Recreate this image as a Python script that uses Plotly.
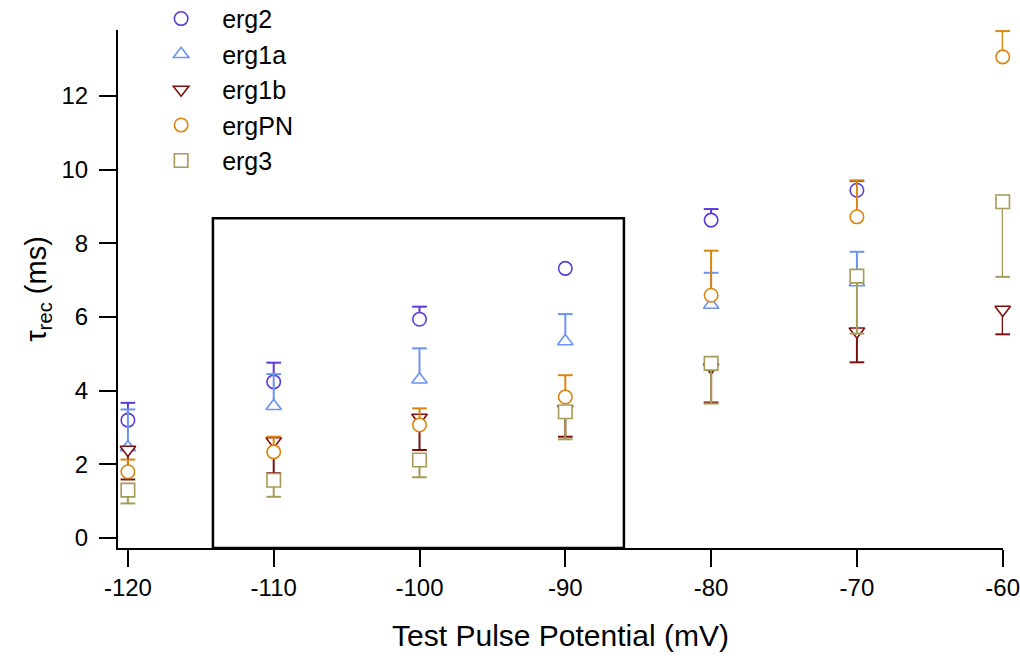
import plotly.graph_objects as go

# ---------------- data ----------------
test_potential_mv = [-120, -110, -100, -90, -80, -70, -60]

erg2 = [3.20, 4.24, 5.94, 7.32, 8.63, 9.44, None]
erg2_err_up = [0.47, 0.52, 0.34, 0.0, 0.30, 0.25, None]

erg1a = [2.46, 3.58, 4.30, 5.34, 6.33, 6.94, None]
erg1a_err_up = [1.03, 0.87, 0.85, 0.74, 0.87, 0.83, None]

erg1b = [2.40, 2.63, 3.27, 3.50, 4.63, 5.61, 6.20]
erg1b_err_down = [0.81, 0.87, 0.88, 0.75, 0.95, 0.84, 0.67]

ergPN = [1.80, 2.34, 3.07, 3.83, 6.59, 8.72, 13.06]
ergPN_err_up = [0.33, 0.41, 0.45, 0.59, 1.21, 0.99, 0.70]

erg3 = [1.30, 1.57, 2.12, 3.43, 4.74, 7.11, 9.13]
erg3_err_down = [0.36, 0.45, 0.47, 0.75, 1.09, 1.56, 2.04]

x_ticks = [-120, -110, -100, -90, -80, -70, -60]
x_tick_labels = ["-120", "-110", "-100", "-90", "-80", "-70", "-60"]
y_ticks = [0, 2, 4, 6, 8, 10, 12]
y_tick_labels = ["0", "2", "4", "6", "8", "10", "12"]

# highlighted region (data coords)
box_x = [-114.17, -85.98]
box_y_top = 8.68

X_RANGE = [-120.68, -59.98]
Y_RANGE = [-0.27, 13.79]

series = [
    ("erg2", erg2, erg2_err_up, "up", "circle", "#5B3CD8"),
    ("erg1a", erg1a, erg1a_err_up, "up", "triangle-up", "#6B93F2"),
    ("erg1b", erg1b, erg1b_err_down, "down", "triangle-down", "#7F0F0F"),
    ("ergPN", ergPN, ergPN_err_up, "up", "circle", "#DA850F"),
    ("erg3", erg3, erg3_err_down, "down", "square", "#A59B58"),
]

fig = go.Figure()

for name, vals, errs, direction, symbol, color in series:
    zeros = [0 if v is not None else None for v in vals]
    if direction == "up":
        plus, minus = errs, zeros
    else:
        plus, minus = zeros, errs
    # caps at the far end of each one-sided bar
    cap_x, cap_y = [], []
    for xv, v, e in zip(test_potential_mv, vals, errs):
        if v is None or e is None or e <= 0:
            continue
        cap_x.append(xv)
        cap_y.append(v + e if direction == "up" else v - e)
    fig.add_trace(go.Scatter(
        x=test_potential_mv, y=vals, mode="markers", name=name,
        marker=dict(symbol=symbol, size=13.5, color="white",
                    line=dict(color=color, width=1.6)),
        error_y=dict(type="data", symmetric=False, array=plus, arrayminus=minus,
                     color=color, thickness=2, width=0),
        cliponaxis=False,
    ))
    fig.add_trace(go.Scatter(
        x=cap_x, y=cap_y, mode="markers", showlegend=False, hoverinfo="skip",
        marker=dict(symbol="line-ew", size=10.5, color=color,
                    line=dict(color=color, width=2)),
        cliponaxis=False,
    ))

fig.add_shape(type="rect", xref="x", yref="y",
              x0=box_x[0], x1=box_x[1], y0=Y_RANGE[0], y1=box_y_top,
              line=dict(color="black", width=2.5), fillcolor="rgba(0,0,0,0)",
              layer="below")

fig.update_layout(
    width=1020, height=659,
    margin=dict(l=118, r=17, t=30, b=111, autoexpand=False),
    paper_bgcolor="white", plot_bgcolor="white",
    font=dict(family="Liberation Sans, Arial, sans-serif", color="black", size=24),
    legend=dict(x=0.025, y=1.066, xanchor="left", yanchor="top",
                font=dict(size=25), bgcolor="rgba(0,0,0,0)",
                itemwidth=72, tracegroupgap=0),
    xaxis=dict(range=X_RANGE, tickvals=x_ticks, ticktext=x_tick_labels,
               ticks="outside", ticklen=17, ticklabeloverflow="allow",
               tickwidth=2, tickcolor="black", showline=True, linewidth=2,
               linecolor="black", showgrid=False, zeroline=False, automargin=False,
               title=dict(text="Test Pulse Potential (mV)", font=dict(size=30), standoff=25)),
    yaxis=dict(range=Y_RANGE, tickvals=y_ticks, ticktext=y_tick_labels,
               ticks="outside", ticklen=17,
               tickwidth=2, tickcolor="black", showline=True, linewidth=2,
               linecolor="black", showgrid=False, zeroline=False, automargin=False,
               ticklabelstandoff=6,
               title=dict(text="τ<sub>rec</sub> (ms)", font=dict(size=29), standoff=6)),
)

fig.write_html("out.html")
